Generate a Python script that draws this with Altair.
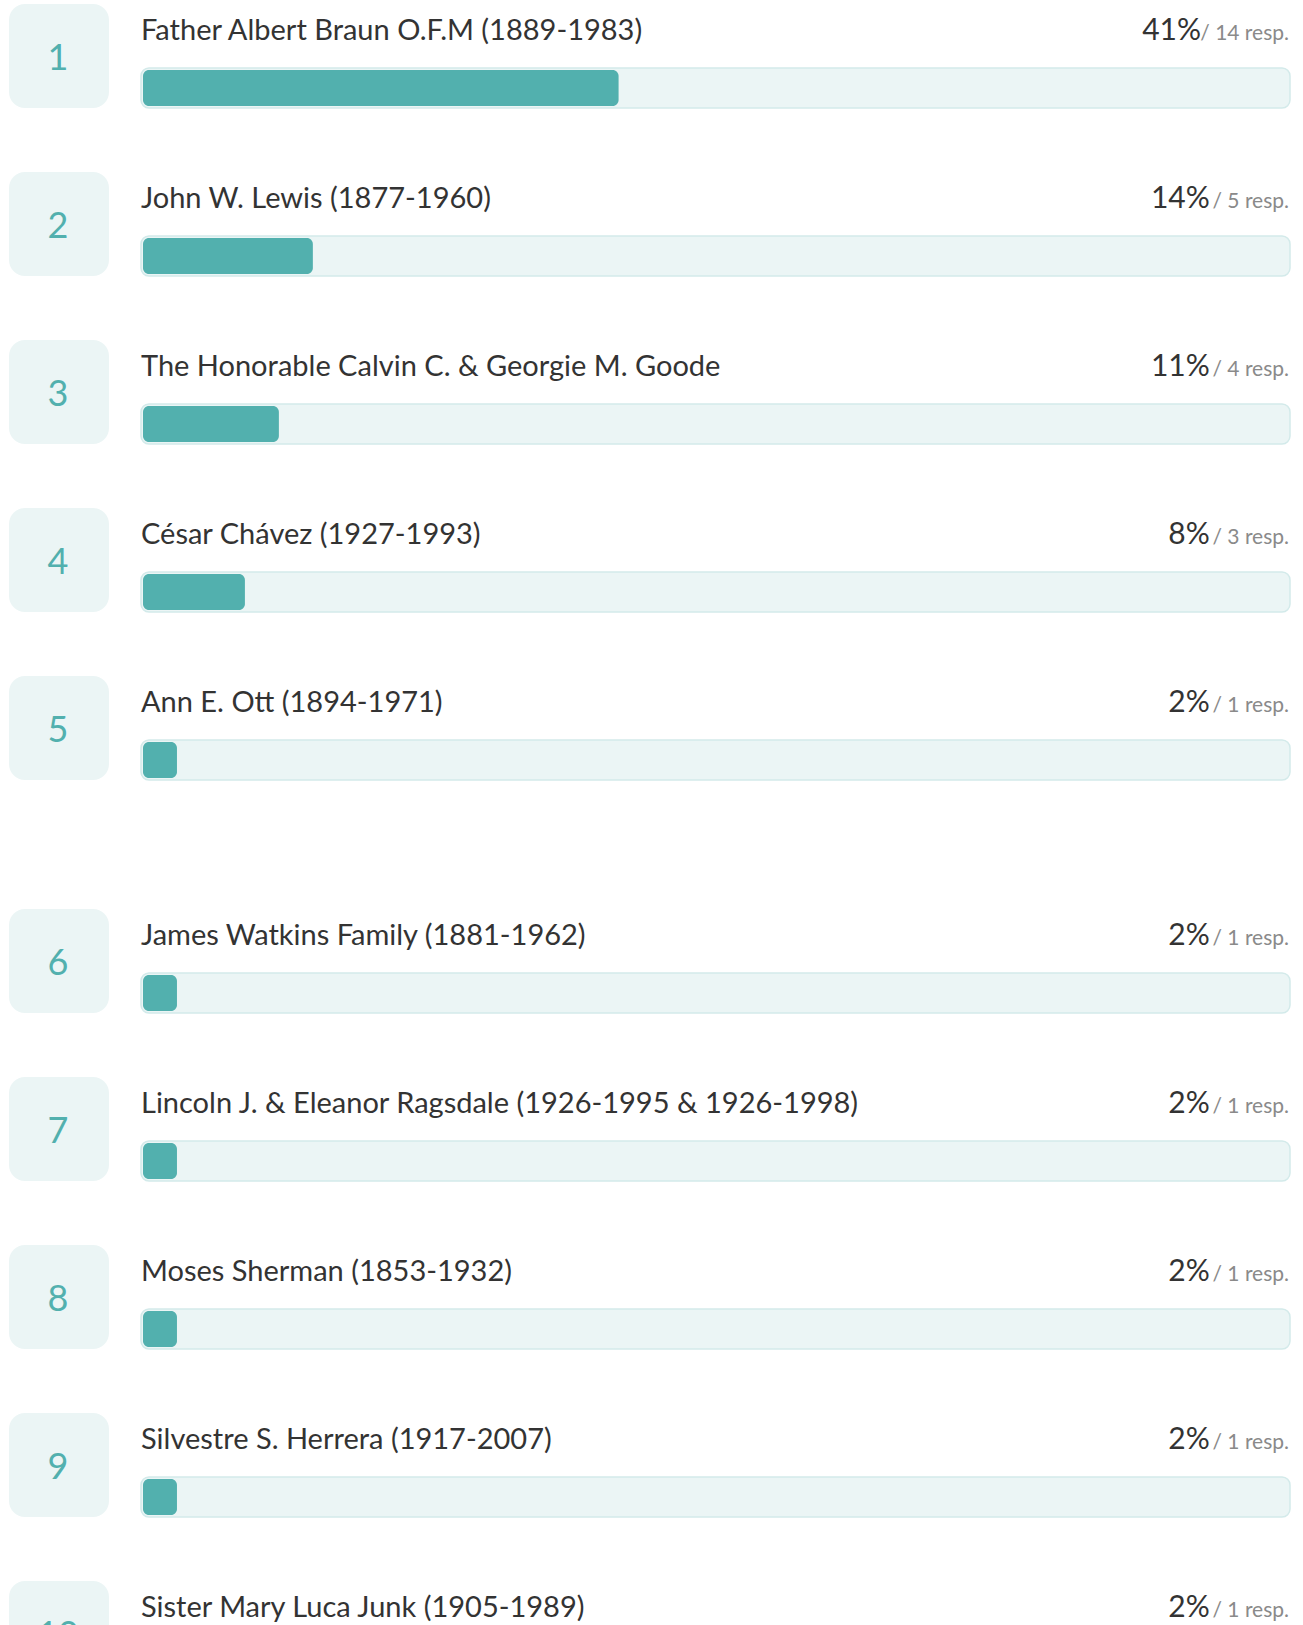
import altair as alt
import pandas as pd

# ---------------- data ----------------
ranks = [1, 2, 3, 4, 5, 6, 7, 8, 9, 10]
names = [
    "Father Albert Braun O.F.M (1889-1983)",
    "John W. Lewis (1877-1960)",
    "The Honorable Calvin C. & Georgie M. Goode",
    "César Chávez (1927-1993)",
    "Ann E. Ott (1894-1971)",
    "James Watkins Family (1881-1962)",
    "Lincoln J. & Eleanor Ragsdale (1926-1995 & 1926-1998)",
    "Moses Sherman (1853-1932)",
    "Silvestre S. Herrera (1917-2007)",
    "Sister Mary Luca Junk (1905-1989)",
]
percents = [41, 14, 11, 8, 2, 2, 2, 2, 2, 2]
responses = [14, 5, 4, 3, 1, 1, 1, 1, 1, 1]
total_responses = 34

df = pd.DataFrame({"rank": ranks, "name": names, "pct": percents, "resp": responses})
df["pct_label"] = df["pct"].astype(str) + "%"
df["resp_label"] = "/ " + df["resp"].astype(str) + " resp."

# ---------------- style ----------------
TEAL = "#52b0ae"
LIGHT = "#ebf5f5"
BORDER = "#d3eaea"
DARK = "#333333"
GREY = "#8a8a8a"
FONT = "Lato"
STEP = 168
TRACK_L, TRACK_R = 143, 1289
FILL_R = 1298
RESP_CHAR_W = 8.8


def panel(sub, height):
    n = len(sub)
    yenc = alt.Y("rank:O", axis=None,
                 scale=alt.Scale(range=[0, STEP * n], paddingInner=0, paddingOuter=0))
    xq = alt.Scale(domain=[0, 1], range=[TRACK_L, FILL_R])
    base = alt.Chart(sub).transform_calculate(
        share=f"datum.resp / {total_responses}",
        zero="0",
        pct_s=f"({TRACK_R - TRACK_L} - length(datum.resp_label) * {RESP_CHAR_W}) / {FILL_R - TRACK_L}",
    )
    badge = base.mark_bar(height=104, yOffset=-28, cornerRadius=16, color=LIGHT,
                          clip=True).encode(y=yenc, x=alt.value(9), x2=alt.value(109))
    track = base.mark_bar(height=40, yOffset=4, cornerRadius=8, fill=LIGHT,
                          stroke=BORDER, strokeWidth=1.5, clip=True).encode(
        y=yenc, x=alt.value(TRACK_L - 2), x2=alt.value(TRACK_R + 1))
    fill = base.mark_bar(height=36, yOffset=4, cornerRadius=6, color=TEAL,
                         clip=True).encode(
        y=yenc, x=alt.X("zero:Q", scale=xq, axis=None), x2="share:Q")
    number = base.mark_text(align="center", baseline="alphabetic", font=FONT,
                            fontSize=36, color=TEAL, yOffset=-14, clip=True).encode(
        y=yenc, x=alt.value(58), text="rank:O")
    label = base.mark_text(align="left", baseline="alphabetic", font=FONT,
                           fontSize=29, color=DARK, yOffset=-44, clip=True).encode(
        y=yenc, x=alt.value(141), text="name:N")
    pct = base.mark_text(align="right", baseline="alphabetic", font=FONT,
                         fontSize=30, color=DARK, yOffset=-44, clip=True).encode(
        y=yenc, x=alt.X("pct_s:Q", scale=xq, axis=None), text="pct_label:N")
    resp = base.mark_text(align="right", baseline="alphabetic", font=FONT,
                          fontSize=21, color=GREY, yOffset=-44, clip=True).encode(
        y=yenc, x=alt.value(TRACK_R), text="resp_label:N")
    return alt.layer(badge, track, fill, number, label, pct, resp).properties(
        width=1303, height=height)


p1 = panel(df[df["rank"] <= 5], 840)
p2 = panel(df[df["rank"] > 5], 720)

chart = alt.vconcat(p1, p2, spacing=65).properties(
    padding=0, background="white"
).configure_view(stroke=None)

chart.save("out.html", embed_options={"renderer": "svg", "actions": False})
